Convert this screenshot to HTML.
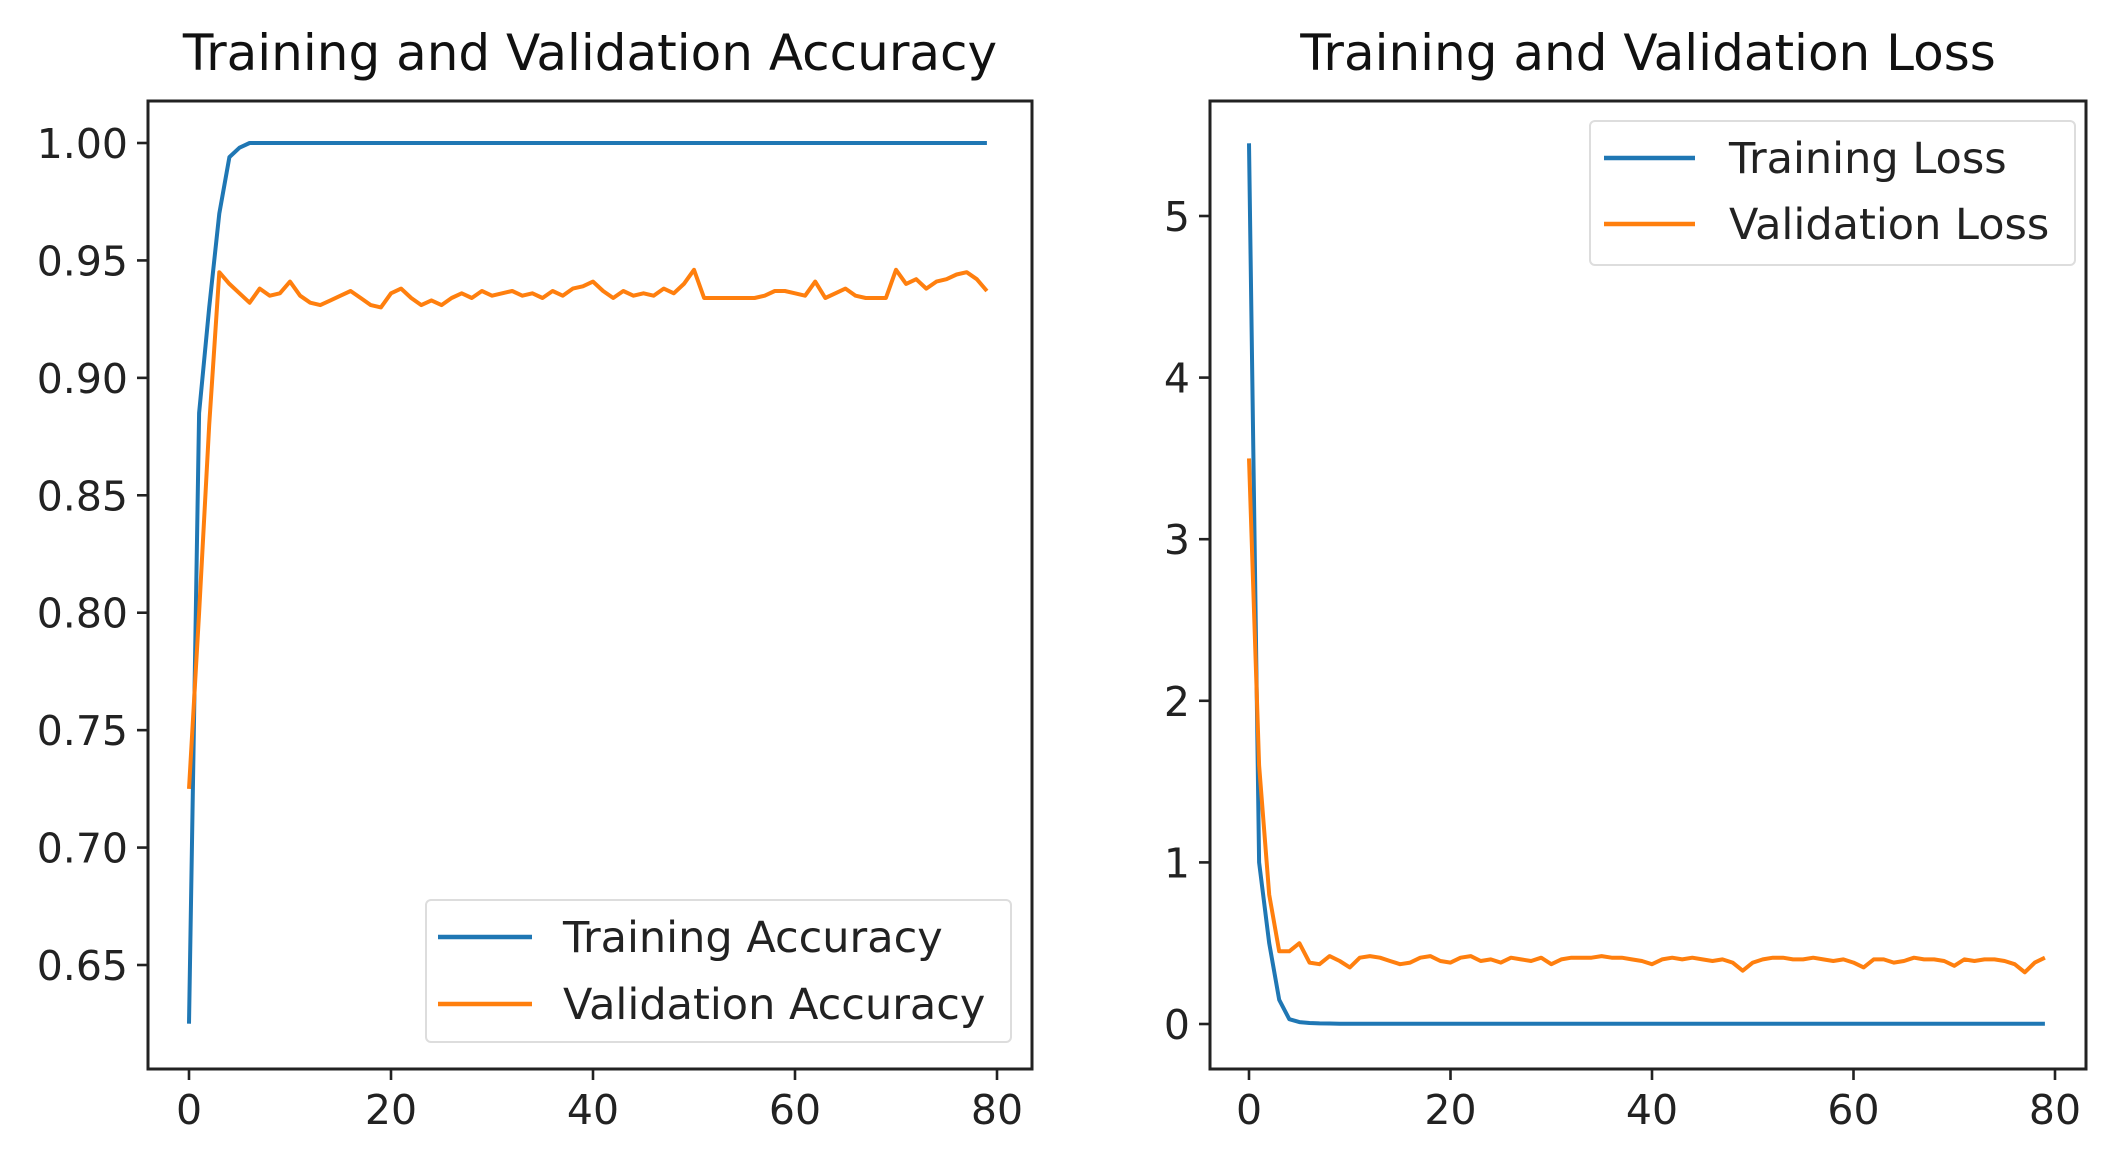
<!DOCTYPE html>
<html><head><meta charset="utf-8"><style>
html,body{margin:0;padding:0;background:#fff;}
svg{display:block;font-family:"DejaVu Sans","Liberation Sans",sans-serif;}
</style></head><body>
<svg id="chart" width="2113" height="1150" viewBox="0 0 2113 1150" xmlns="http://www.w3.org/2000/svg"></svg>
<script>
const epochs = Array.from({length:80},(_,i)=>i);
const trainAcc = [0.625,0.885,0.93,0.97,0.994,0.998,1.0,1.0,1.0,1.0,1.0,1.0,1.0,1.0,1.0,1.0,1.0,1.0,1.0,1.0,1.0,1.0,1.0,1.0,1.0,1.0,1.0,1.0,1.0,1.0,1.0,1.0,1.0,1.0,1.0,1.0,1.0,1.0,1.0,1.0,1.0,1.0,1.0,1.0,1.0,1.0,1.0,1.0,1.0,1.0,1.0,1.0,1.0,1.0,1.0,1.0,1.0,1.0,1.0,1.0,1.0,1.0,1.0,1.0,1.0,1.0,1.0,1.0,1.0,1.0,1.0,1.0,1.0,1.0,1.0,1.0,1.0,1.0,1.0,1.0];
const valAcc = [0.725,0.80,0.88,0.945,0.940,0.936,0.932,0.938,0.935,0.936,0.941,0.935,0.932,0.931,0.933,0.935,0.937,0.934,0.931,0.930,0.936,0.938,0.934,0.931,0.933,0.931,0.934,0.936,0.934,0.937,0.935,0.936,0.937,0.935,0.936,0.934,0.937,0.935,0.938,0.939,0.941,0.937,0.934,0.937,0.935,0.936,0.935,0.938,0.936,0.940,0.946,0.934,0.934,0.934,0.934,0.934,0.934,0.935,0.937,0.937,0.936,0.935,0.941,0.934,0.936,0.938,0.935,0.934,0.934,0.934,0.946,0.940,0.942,0.938,0.941,0.942,0.944,0.945,0.942,0.937];
const trainLoss = [5.45,1.0,0.5,0.15,0.03,0.012,0.006,0.004,0.003,0.002,0.002,0.002,0.001,0.001,0.001,0.001,0.001,0.001,0.001,0.001,0.001,0.001,0.001,0.001,0.001,0.001,0.001,0.001,0.001,0.001,0.001,0.001,0.001,0.001,0.001,0.001,0.001,0.001,0.001,0.001,0.001,0.001,0.001,0.001,0.001,0.001,0.001,0.001,0.001,0.001,0.001,0.001,0.001,0.001,0.001,0.001,0.001,0.001,0.001,0.001,0.001,0.001,0.001,0.001,0.001,0.001,0.001,0.001,0.001,0.001,0.001,0.001,0.001,0.001,0.001,0.001,0.001,0.001,0.001,0.001];
const valLoss = [3.5,1.6,0.8,0.45,0.45,0.5,0.38,0.37,0.42,0.39,0.35,0.41,0.42,0.41,0.39,0.37,0.38,0.41,0.42,0.39,0.38,0.41,0.42,0.39,0.40,0.38,0.41,0.40,0.39,0.41,0.37,0.40,0.41,0.41,0.41,0.42,0.41,0.41,0.40,0.39,0.37,0.40,0.41,0.40,0.41,0.40,0.39,0.40,0.38,0.33,0.38,0.40,0.41,0.41,0.40,0.40,0.41,0.40,0.39,0.40,0.38,0.35,0.40,0.40,0.38,0.39,0.41,0.40,0.40,0.39,0.36,0.40,0.39,0.40,0.40,0.39,0.37,0.32,0.38,0.41];
const xTicks = [0,20,40,60,80];
const accTicks = [0.65,0.70,0.75,0.80,0.85,0.90,0.95,1.00];
const accTickLabels = ["0.65","0.70","0.75","0.80","0.85","0.90","0.95","1.00"];
const lossTicks = [0,1,2,3,4,5];
const lossTickLabels = ["0","1","2","3","4","5"];

const NS="http://www.w3.org/2000/svg";
const svg=document.getElementById('chart');
function mk(tag,attrs,parent){const e=document.createElementNS(NS,tag);for(const k in attrs)e.setAttribute(k,attrs[k]);(parent||svg).appendChild(e);return e;}

function panel(cfg){
  const g=mk('g',{});
  
  
  const xs=v=>cfg.x0+(v-0)*(cfg.x80-cfg.x0)/80;
  const ys=v=>cfg.yA+(v-cfg.vA)*(cfg.yB-cfg.yA)/(cfg.vB-cfg.vA);
  const t=mk('text',{x:(cfg.L+cfg.R)/2,y:70,'text-anchor':'middle','font-size':50,fill:'#111'},g);
  t.textContent=cfg.title;
  
  
  cfg.series.forEach(s=>{
    const d=s.vals.map((v,i)=>(i?'L':'M')+xs(epochs[i]).toFixed(1)+','+ys(v).toFixed(1)).join(' ');
    const p=mk('path',{d:d,fill:'none',stroke:s.color,'stroke-width':4,'stroke-linejoin':'round'},g);
    
    
  });
  const box=mk('rect',{x:cfg.L,y:101,width:cfg.R-cfg.L,height:968,fill:'none',stroke:'#222','stroke-width':3},g);
  
  
  xTicks.forEach(v=>{
    const x=xs(v);
    mk('line',{x1:x,x2:x,y1:1069,y2:1080,stroke:'#222','stroke-width':2.6},g);
    const tl=mk('text',{x:x,y:1124,'text-anchor':'middle','font-size':41,fill:'#222'},g);
    tl.textContent=v;
    
    
  });
  cfg.yTicks.forEach((v,i)=>{
    const y=ys(v);
    mk('line',{x1:cfg.L-11,x2:cfg.L,y1:y,y2:y,stroke:'#222','stroke-width':2.6},g);
    const tl=mk('text',{x:cfg.L-20,y:y+15,'text-anchor':'end','font-size':41,fill:'#222'},g);
    tl.textContent=cfg.yLabels[i];
    
    
  });
  const lg=mk('g',{},g);
  
  
  const b=cfg.legend;
  mk('rect',{x:b.x,y:b.y,width:b.w,height:b.h,rx:5,fill:'#fff','fill-opacity':0.85,stroke:'#ddd','stroke-width':2},lg);
  cfg.series.forEach((s,i)=>{
    const y=b.y+b.first+i*b.gap;
    mk('line',{x1:b.lx1,x2:b.lx2,y1:y,y2:y,stroke:s.color,'stroke-width':4.5},lg);
    const tx=mk('text',{x:b.tx,y:y+15,'font-size':43,fill:'#222'},lg);
    tx.textContent=s.label;
    
    
  });
}

panel({name:'accuracy-chart',title:'Training and Validation Accuracy',L:148,R:1032,x0:189,x80:997,
  vA:1.0,yA:143,vB:0.65,yB:965,yTicks:accTicks,yLabels:accTickLabels,
  series:[{id:'training-accuracy-line',label:'Training Accuracy',color:'#1f77b4',vals:trainAcc},
          {id:'validation-accuracy-line',label:'Validation Accuracy',color:'#ff7f0e',vals:valAcc}],
  legend:{x:426,y:900,w:585,h:142,first:37,gap:67,lx1:438,lx2:532,tx:563}});
panel({name:'loss-chart',title:'Training and Validation Loss',L:1210,R:2086,x0:1249,x80:2055,
  vA:5,yA:216,vB:0,yB:1024,yTicks:lossTicks,yLabels:lossTickLabels,
  series:[{id:'training-loss-line',label:'Training Loss',color:'#1f77b4',vals:trainLoss},
          {id:'validation-loss-line',label:'Validation Loss',color:'#ff7f0e',vals:valLoss}],
  legend:{x:1590,y:121,w:485,h:144,first:37,gap:66,lx1:1604,lx2:1695,tx:1729}});
</script>
</body></html>
